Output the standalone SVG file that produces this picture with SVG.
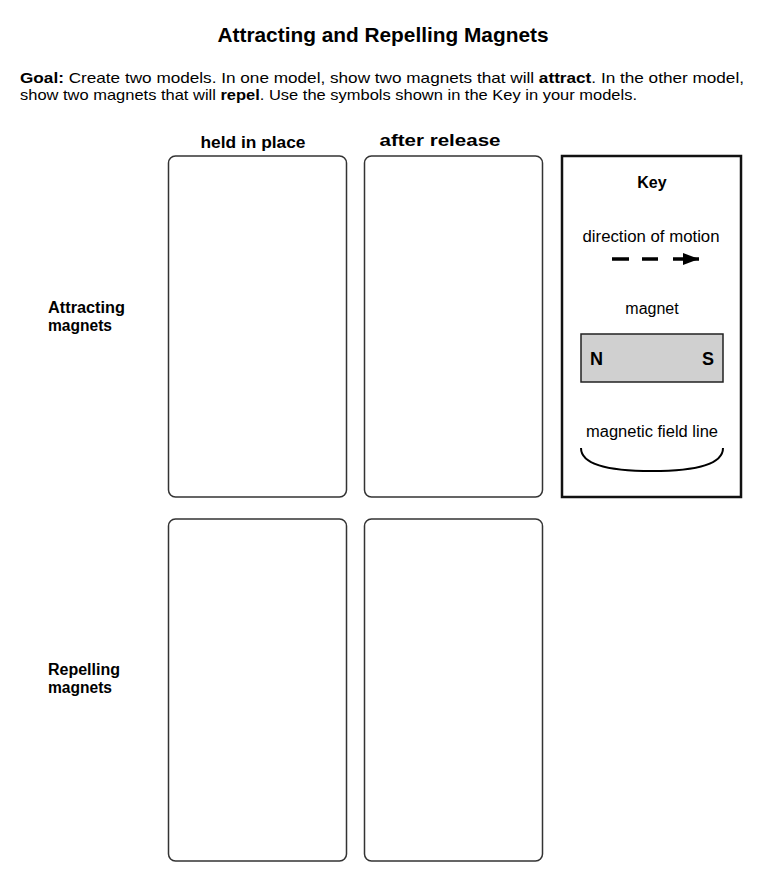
<svg xmlns="http://www.w3.org/2000/svg" width="767" height="884" viewBox="0 0 767 884">
<style>
text{font-family:"Liberation Sans",Arial,sans-serif;fill:#000}
.title{font-size:21px;font-weight:bold;text-anchor:middle}
.goal{font-size:15px}
.hdr{font-size:16px;font-weight:bold;text-anchor:middle}
.row{font-size:16px;font-weight:bold}
.key{font-size:16px;text-anchor:middle}
.cell{fill:#fff;stroke:#333;stroke-width:1.5}
</style>
<defs>
<marker id="ah" markerWidth="16" markerHeight="12" refX="16" refY="6" orient="auto" markerUnits="userSpaceOnUse">
<polygon points="0,0 16,6 0,12" fill="#000"/>
</marker>
</defs>
<rect width="767" height="884" fill="#fff"/>
<text class="title" x="383" y="42" textLength="331" lengthAdjust="spacingAndGlyphs">Attracting and Repelling Magnets</text>
<text class="goal" x="20" y="83" textLength="724" lengthAdjust="spacingAndGlyphs"><tspan font-weight="bold">Goal:</tspan> Create two models. In one model, show two magnets that will <tspan font-weight="bold">attract</tspan>. In the other model,</text>
<text class="goal" x="20" y="100" textLength="617" lengthAdjust="spacingAndGlyphs">show two magnets that will <tspan font-weight="bold">repel</tspan>. Use the symbols shown in the Key in your models.</text>
<text class="hdr" x="253" y="148" textLength="105" lengthAdjust="spacingAndGlyphs">held in place</text>
<text class="hdr" x="440" y="146" textLength="121" lengthAdjust="spacingAndGlyphs">after release</text>
<g id="row-attract"><text class="row" x="48" y="313" textLength="77" lengthAdjust="spacingAndGlyphs">Attracting</text><text class="row" x="48" y="331" textLength="64" lengthAdjust="spacingAndGlyphs">magnets</text></g>
<g id="row-repel"><text class="row" x="48" y="675" textLength="72" lengthAdjust="spacingAndGlyphs">Repelling</text><text class="row" x="48" y="693" textLength="64" lengthAdjust="spacingAndGlyphs">magnets</text></g>
<g id="cell-a1"><rect class="cell" x="168.5" y="156" width="178" height="341" rx="7"/></g>
<g id="cell-a2"><rect class="cell" x="364.5" y="156" width="178" height="341" rx="7"/></g>
<g id="cell-r1"><rect class="cell" x="168.5" y="519" width="178" height="342" rx="7"/></g>
<g id="cell-r2"><rect class="cell" x="364.5" y="519" width="178" height="342" rx="7"/></g>
<g id="key">
<rect x="562" y="156" width="179" height="341" fill="#fff" stroke="#111" stroke-width="2.5"/>
<text class="key" x="652" y="188" font-weight="bold">Key</text>
<text class="key" x="651" y="242" textLength="137" lengthAdjust="spacingAndGlyphs">direction of motion</text>
<text class="key" x="652" y="314">magnet</text>
<rect x="581" y="334" width="142" height="48" fill="#d0d0d0" stroke="#222" stroke-width="1.5"/>
<text x="590" y="365" font-size="18" font-weight="bold">N</text>
<text x="714" y="365" font-size="18" font-weight="bold" text-anchor="end">S</text>
<text class="key" x="652" y="437" textLength="132" lengthAdjust="spacingAndGlyphs">magnetic field line</text>
</g>
<g id="connectors">
<path d="M612 259 H629 M642 259 H658 M673 259 H699" stroke="#000" stroke-width="3.5" fill="none" marker-end="url(#ah)"/>
<path d="M581 448 Q581 471 652 471 Q723 471 723 448" stroke="#000" stroke-width="2" fill="none"/>
</g>
</svg>
